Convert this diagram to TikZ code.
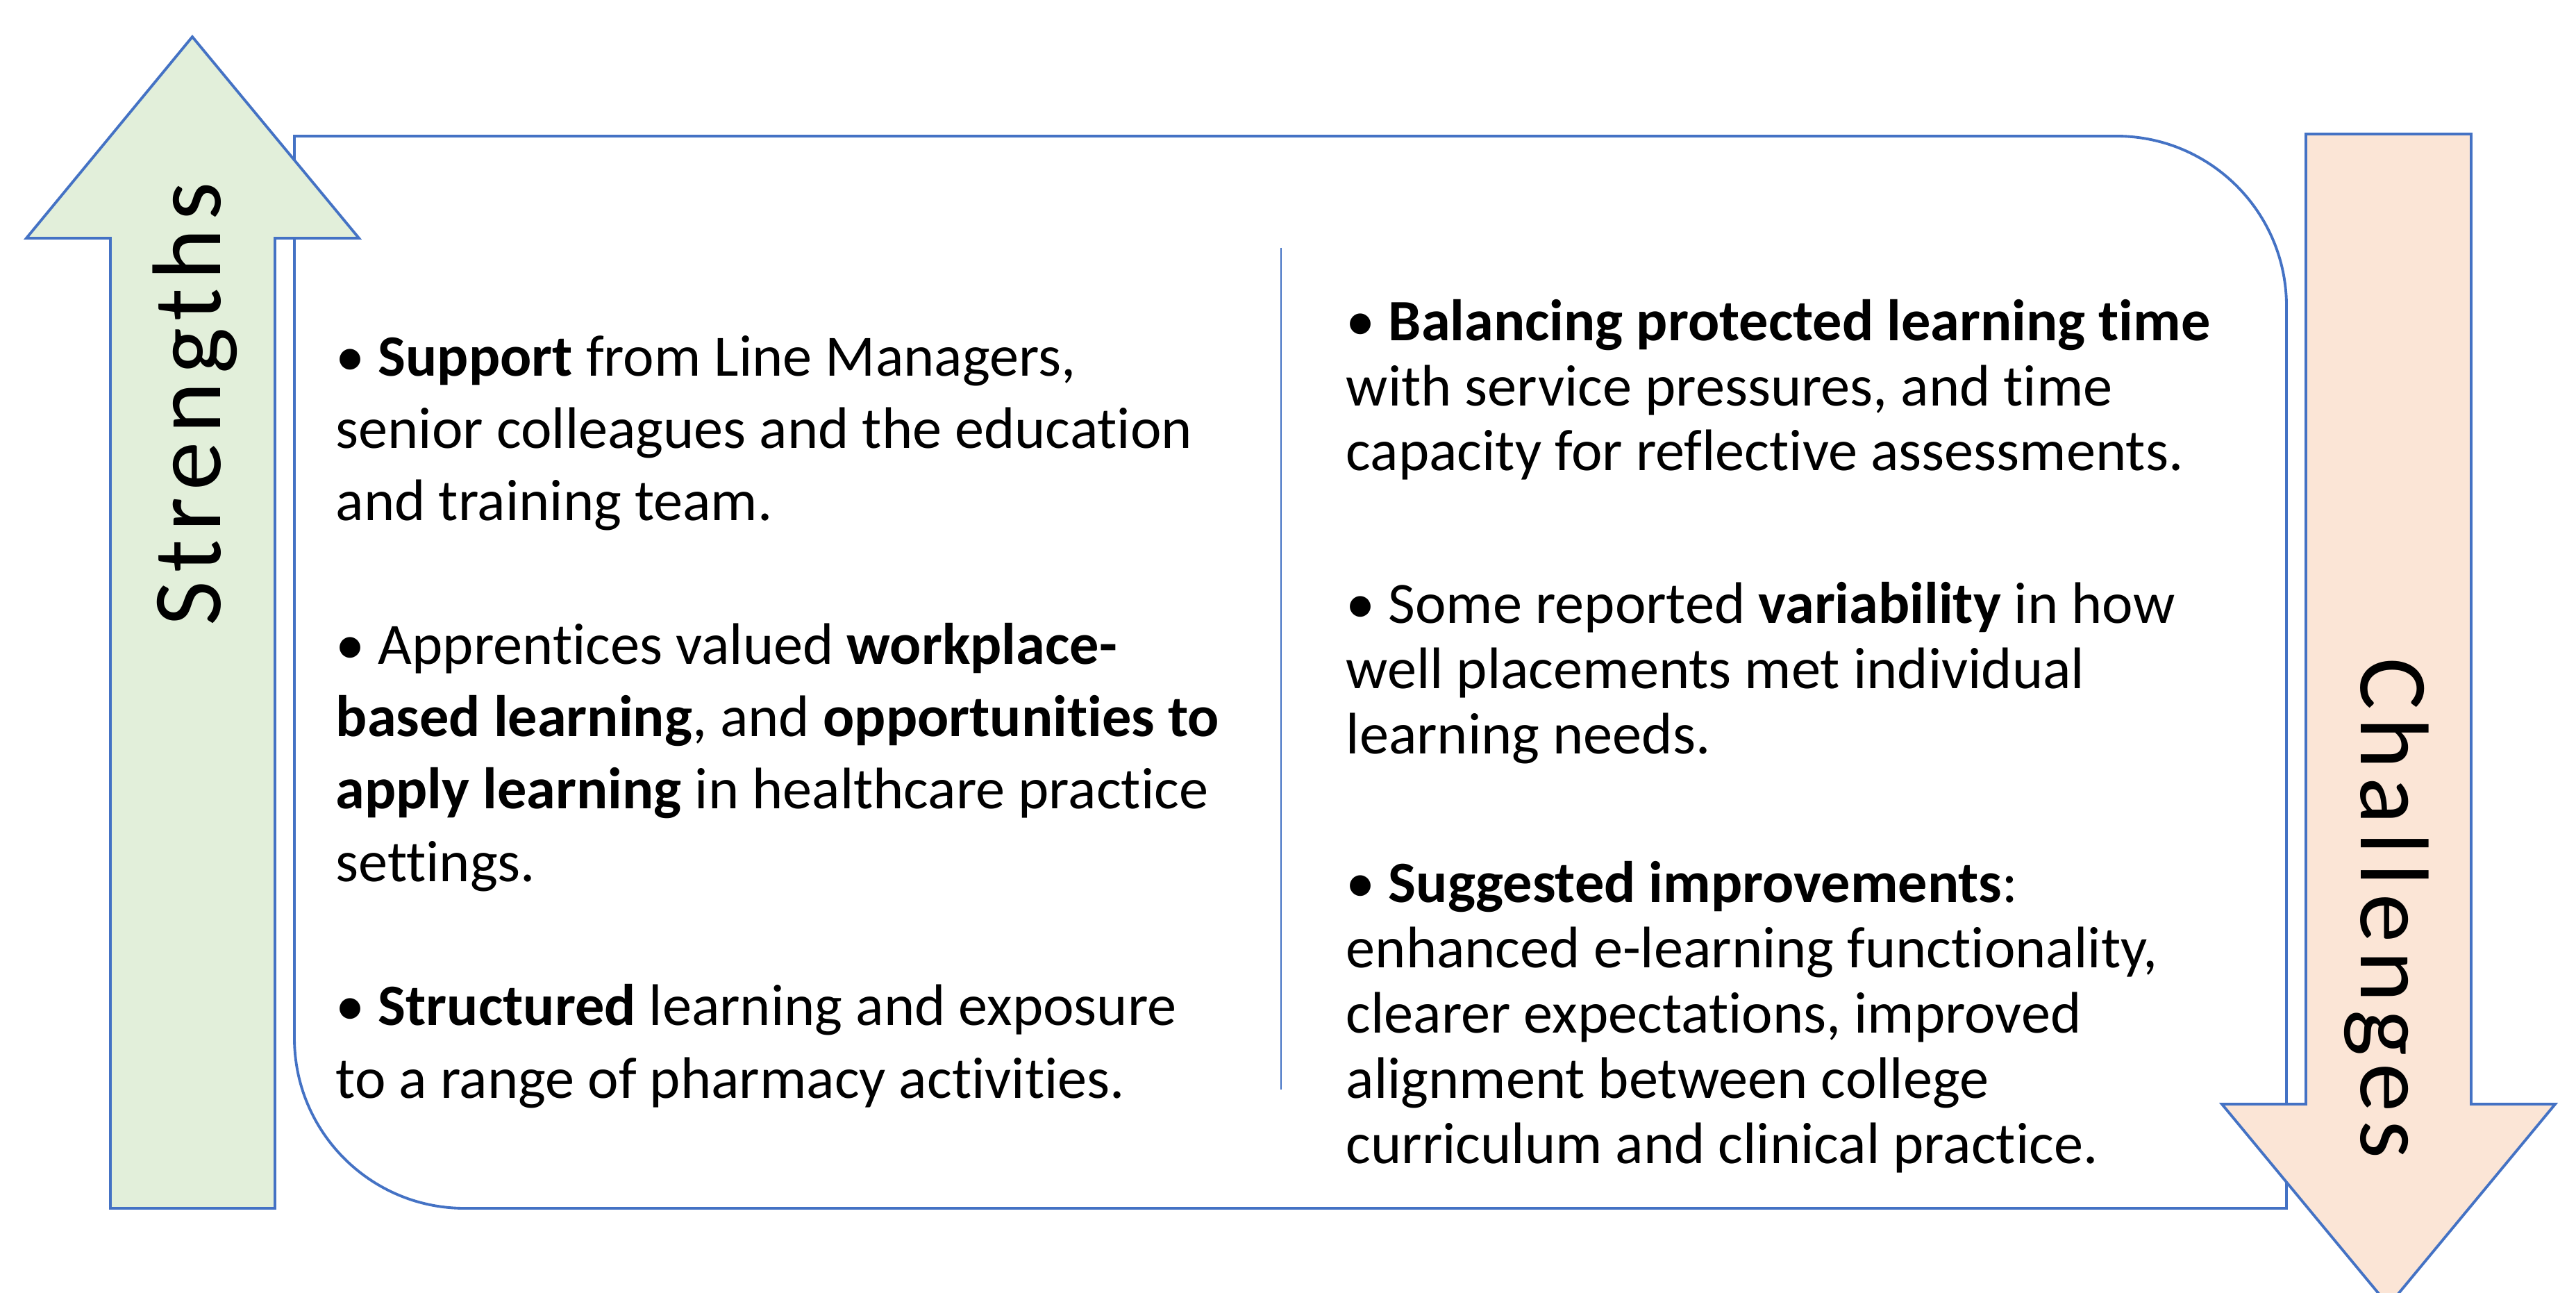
\documentclass[tikz,border=0pt]{standalone}
\usepackage{fontspec}
\setmainfont{Carlito}[Ligatures=NoCommon]
\definecolor{edgeblue}{HTML}{4472C4}
\definecolor{upgreen}{HTML}{E2EFDA}
\definecolor{downpeach}{HTML}{FBE5D6}
\begin{document}
\begin{tikzpicture}[
        outline/.style={draw=edgeblue, line width=1.1pt},
        arrowlabel/.style={font={\fontsize{40}{48}\selectfont\addfontfeature{LetterSpace=8.5}}, inner sep=0pt},
        leftcol/.style={anchor=base west, align=left, inner sep=0pt,
            font={\fontsize{24}{29.6}\selectfont}},
        rightcol/.style={anchor=base west, align=left, inner sep=0pt,
            font={\fontsize{24}{26.7}\selectfont}}
        ]

        \clip (0,0) rectangle (37.10,18.61);

        % frame with two rounded corners
        \draw[outline] (4.24,16.65) -- (30.48,16.65) arc[start angle=90, end angle=0, radius=2.45]
            -- (32.93,1.21) -- (6.69,1.21) arc[start angle=270, end angle=180, radius=2.45] -- cycle;

        % arrows
        \draw[outline, fill=upgreen] (1.59,1.21) -- (1.59,15.18) -- (0.38,15.18) -- (2.77,18.08)
            -- (5.17,15.18) -- (3.96,15.18) -- (3.96,1.21) -- cycle;
        \draw[outline, fill=downpeach] (33.21,16.68) -- (35.59,16.68) -- (35.59,2.71) -- (36.80,2.71)
            -- (34.40,-0.19) -- (32.00,2.71) -- (33.21,2.71) -- cycle;

        \node[arrowlabel, rotate=90, anchor=base] (strengths) at (3.17,12.79) {Strengths};
        \node[arrowlabel, rotate=-90, anchor=base] (challenges) at (34.00,5.53) {Challenges};

        % divider
        \coordinate (divtop) at (18.45,15.04);
        \coordinate (divbot) at (18.45,2.92);
        \draw[edgeblue, line width=0.8pt] (divtop) -- (divbot);

        % base = last line of each block
        \node[leftcol] (support) at (4.83,11.11) {• \textbf{Support} from Line Managers,\\
            senior colleagues and the education\\ and training team.};
        \node[leftcol] (workplace) at (4.83,5.92) {• Apprentices valued \textbf{workplace-}\\
            \textbf{based learning}, and \textbf{opportunities to}\\
            \textbf{apply learning} in healthcare practice\\ settings.};
        \node[leftcol] (structured) at (4.83,2.80) {• \textbf{Structured} learning and exposure\\
            to a range of pharmacy activities.};

        \node[rightcol] (balancing) at (19.38,11.83) {• \textbf{Balancing protected learning time}\\
            with service pressures, and time\\ capacity for reflective assessments.};
        \node[rightcol] (variability) at (19.38,7.76) {• Some reported \textbf{variability} in how\\
            well placements met individual\\ learning needs.};
        \node[rightcol] (improvements) at (19.38,1.86) {• \textbf{Suggested improvements}:\\
            enhanced e-learning functionality,\\ clearer expectations, improved\\
            alignment between college\\ curriculum and clinical practice.};

    \end{tikzpicture}
\end{document}
